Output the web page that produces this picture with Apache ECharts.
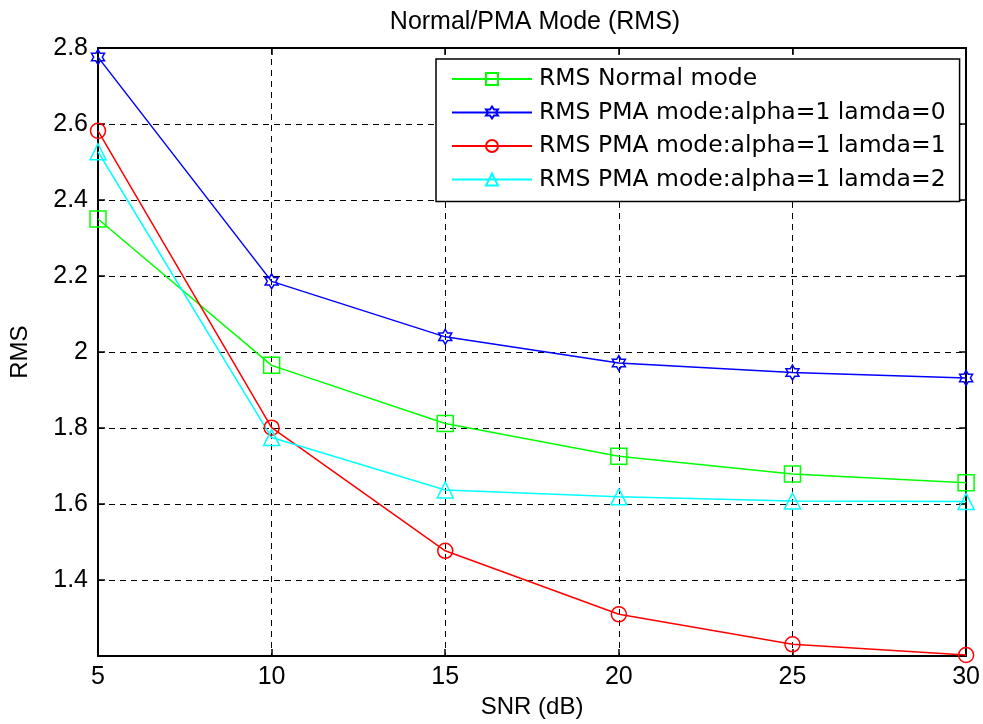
<!DOCTYPE html>
<html>
<head>
<meta charset="utf-8">
<script src="https://cdn.jsdelivr.net/npm/echarts@6/dist/echarts.min.js"></script>
<style>
  html, body { margin: 0; padding: 0; background: #fff; }
  #chart { width: 983px; height: 724px; }
</style>
</head>
<body>
<div id="chart"></div>
<script>
// SNR sweep points (dB)
const snr = [5, 10, 15, 20, 25, 30];

// RMS error per mode
const rmsNormal = [2.350, 1.965, 1.812, 1.726, 1.679, 1.656];
const rmsPmaLamda0 = [2.776, 2.186, 2.040, 1.971, 1.946, 1.932];
const rmsPmaLamda1 = [2.582, 1.801, 1.477, 1.310, 1.231, 1.203];
const rmsPmaLamda2 = [2.527, 1.775, 1.637, 1.619, 1.608, 1.607];

const seriesNames = [
  'RMS Normal mode',
  'RMS PMA mode:alpha=1 lamda=0',
  'RMS PMA mode:alpha=1 lamda=1',
  'RMS PMA mode:alpha=1 lamda=2'
];

// six-pointed star marker
const hexagram = 'path://M100 0 L128.9 50 L186.6 50 L157.7 100 L186.6 150 L128.9 150 L100 200 L71.1 150 L13.4 150 L42.3 100 L13.4 50 L71.1 50 Z';

const FONT = 'Liberation Sans, Arial, sans-serif';

function pairs(ys) {
  return snr.map((x, i) => [x, ys[i]]);
}

function lineSeries(name, ys, color, symbol, size) {
  return {
    name: name,
    type: 'line',
    xAxisIndex: 0,
    yAxisIndex: 0,
    data: pairs(ys),
    symbol: symbol,
    symbolSize: size,
    symbolKeepAspect: true,
    showAllSymbol: true,
    lineStyle: { color: color, width: 1.5 },
    itemStyle: { color: 'rgba(255,255,255,0)', borderColor: color, borderWidth: 1.5 },
    emphasis: { disabled: true },
    z: 3
  };
}

const chart = echarts.init(document.getElementById('chart'), null, { renderer: 'canvas' });

const axisLineStyle = { show: true, lineStyle: { color: '#000', width: 2 } };
const tickStyle = { show: true, inside: true, length: 7, lineStyle: { color: '#000', width: 1.5 } };

chart.setOption({
  animation: false,
  backgroundColor: '#ffffff',
  title: {
    text: 'Normal/PMA Mode (RMS)',
    left: 530,
    top: 5,
    textAlign: 'center',
    textStyle: { fontFamily: FONT, fontSize: 25, fontWeight: 'normal', color: '#000' }
  },
  grid: { left: 98, right: 16, top: 48, bottom: 67, containLabel: false },
  legend: {
    orient: 'vertical',
    left: 436,
    top: 59,
    data: seriesNames,
    itemWidth: 80,
    itemHeight: 15,
    itemGap: 9.5,
    padding: [8, 14, 10, 15],
    backgroundColor: '#ffffff',
    borderColor: '#000',
    borderWidth: 1.5,
    borderRadius: 0,
    selectedMode: false,
    textStyle: { fontFamily: 'DejaVu Sans, sans-serif', fontSize: 23.5, color: '#000', padding: [0, 0, 0, 2] }
  },
  xAxis: [
    {
      type: 'value',
      min: 5, max: 30, interval: 5,
      name: 'SNR (dB)',
      nameLocation: 'middle',
      nameGap: 31,
      nameTextStyle: { fontFamily: FONT, fontSize: 24, color: '#000' },
      axisLine: axisLineStyle,
      axisTick: tickStyle,
      axisLabel: { fontFamily: FONT, fontSize: 25, color: '#000', margin: 9 },
      splitLine: { show: true, lineStyle: { color: '#000', width: 1, type: [6, 5] } }
    },
    {
      type: 'value',
      position: 'top',
      min: 5, max: 30, interval: 5,
      axisLine: axisLineStyle,
      axisTick: tickStyle,
      axisLabel: { show: false },
      splitLine: { show: false }
    }
  ],
  yAxis: [
    {
      type: 'value',
      min: 1.2, max: 2.8, interval: 0.2,
      name: 'RMS',
      nameLocation: 'middle',
      nameGap: 66,
      nameTextStyle: { fontFamily: FONT, fontSize: 24, color: '#000' },
      axisLine: axisLineStyle,
      axisTick: tickStyle,
      axisLabel: { fontFamily: FONT, fontSize: 25, color: '#000', margin: 10, showMinLabel: false },
      splitLine: { show: true, lineStyle: { color: '#000', width: 1, type: [6, 5] } }
    },
    {
      type: 'value',
      position: 'right',
      min: 1.2, max: 2.8, interval: 0.2,
      axisLine: axisLineStyle,
      axisTick: tickStyle,
      axisLabel: { show: false },
      splitLine: { show: false }
    }
  ],
  series: [
    lineSeries(seriesNames[0], rmsNormal, '#00ff00', 'rect', 16),
    lineSeries(seriesNames[1], rmsPmaLamda0, '#0000ff', hexagram, 15),
    lineSeries(seriesNames[2], rmsPmaLamda1, '#ff0000', 'circle', 15),
    lineSeries(seriesNames[3], rmsPmaLamda2, '#00ffff', 'triangle', 16)
  ]
});
</script>
</body>
</html>
